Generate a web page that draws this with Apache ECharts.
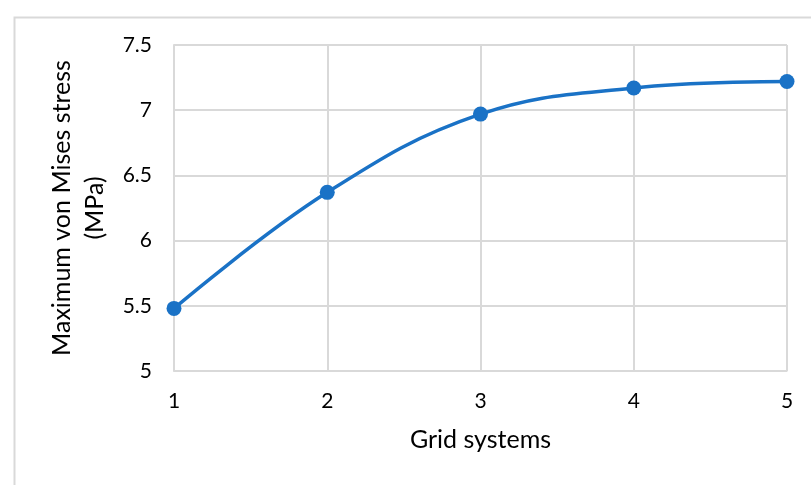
<!DOCTYPE html>
<html>
<head>
<meta charset="utf-8">
<script src="https://cdn.jsdelivr.net/npm/echarts@6/dist/echarts.min.js"></script>
<style>
  html, body { margin: 0; padding: 0; background: #fff; }
  #chart { width: 811px; height: 485px; }
</style>
</head>
<body>
<div id="chart"></div>
<script>
// Mesh convergence: maximum von Mises stress per grid system
const gridSystems = [1, 2, 3, 4, 5];
const maxStress = [5.48, 6.37, 6.97, 7.17, 7.22];

const xTitle = 'Grid systems';
const yTitle = 'Maximum von Mises stress\n(MPa)';

const font = 'Lato, "Open Sans", sans-serif';
const chart = echarts.init(document.getElementById('chart'), null, { renderer: 'canvas' });

chart.setOption({
  animation: false,
  backgroundColor: '#ffffff',
  graphic: [{
    type: 'rect',
    left: 12, top: 15,
    shape: { width: 820, height: 490 },
    style: { fill: 'none', stroke: '#d9d9d9', lineWidth: 2 },
    silent: true
  }],
  grid: { left: 174, top: 45, right: 24, bottom: 114, show: true, borderColor: '#d9d9d9', borderWidth: 1 },
  xAxis: {
    type: 'value',
    min: 1, max: 5, interval: 1,
    name: xTitle,
    nameLocation: 'middle',
    nameGap: 56,
    nameTextStyle: { fontFamily: font, fontSize: 25, color: '#000' },
    axisLine: { show: true, lineStyle: { color: '#d9d9d9', width: 1 } },
    axisTick: { show: false },
    axisLabel: { fontFamily: font, fontSize: 21, color: '#000', margin: 20 },
    splitLine: { show: true, lineStyle: { color: '#d9d9d9', width: 2 } }
  },
  yAxis: {
    type: 'value',
    min: 5, max: 7.5, interval: 0.5,
    name: yTitle,
    nameLocation: 'middle',
    nameGap: 57,
    nameTextStyle: { fontFamily: font, fontSize: 25, color: '#000', lineHeight: 33 },
    axisLine: { show: true, lineStyle: { color: '#d9d9d9', width: 2 } },
    axisTick: { show: false },
    axisLabel: { fontFamily: font, fontSize: 21, color: '#000', margin: 22 },
    splitLine: { show: true, lineStyle: { color: '#d9d9d9', width: 2 } }
  },
  series: [{
    type: 'line',
    data: gridSystems.map((g, i) => [g, maxStress[i]]),
    smooth: 0.4,
    symbol: 'circle',
    symbolSize: 15,
    lineStyle: { color: '#1a72c6', width: 3.5 },
    itemStyle: { color: '#1a72c6' }
  }]
});
</script>
</body>
</html>
